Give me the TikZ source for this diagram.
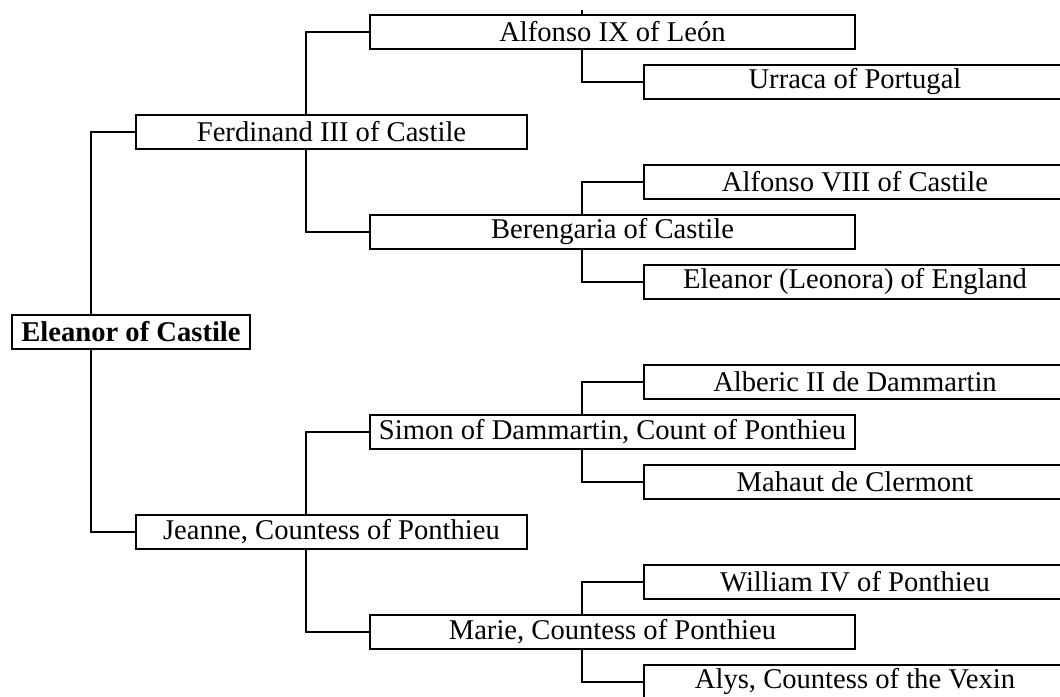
\documentclass[tikz,border=0pt]{standalone}
\usepackage{fontspec}
\setmainfont{Liberation Serif}
\begin{document}
\begin{tikzpicture}[x=0.5pt,y=-0.5pt,
  box/.style={draw,line width=1pt,inner sep=0pt,minimum height=17pt,
    font=\fontsize{14.3}{16}\selectfont},
  gen0/.style={box,minimum width=119pt,font=\fontsize{14.3}{16}\selectfont\bfseries},
  gen1/.style={box,minimum width=195.5pt},
  gen2/.style={box,minimum width=242.5pt},
  gen3/.style={box,minimum width=211pt},
  link/.style={line width=1pt}]
\useasboundingbox (0,0) rectangle (1060,696);
\clip (0,0) rectangle (1060,696);
\fill[white] (0,0) rectangle (1060,696);
% column x positions of the connectors
\coordinate (c0) at (91,0);
\coordinate (c1) at (306,0);
\coordinate (c2) at (582,0);
% generation 0
\node[gen0] (E) at (131,332) {Eleanor of Castile};
% generation 1
\node[gen1] (F) at (331.5,132) {Ferdinand III of Castile};
\node[gen1] (J) at (331.5,532) {Jeanne, Countess of Ponthieu};
% generation 2
\node[gen2] (A9) at (612.5,32) {Alfonso IX of León};
\node[gen2] (B) at (612.5,232) {Berengaria of Castile};
\node[gen2] (S) at (612.5,432) {Simon of Dammartin, Count of Ponthieu};
\node[gen2] (M) at (612.5,632) {Marie, Countess of Ponthieu};
% generation 3
\node[gen3] (U) at (855,82) {Urraca of Portugal};
\node[gen3] (A8) at (855,182) {Alfonso VIII of Castile};
\node[gen3] (L) at (855,282) {Eleanor (Leonora) of England};
\node[gen3] (Al) at (855,382) {Alberic II de Dammartin};
\node[gen3] (Ma) at (855,482) {Mahaut de Clermont};
\node[gen3] (W) at (855,582) {William IV of Ponthieu};
\node[gen3] (Ay) at (855,682) {Alys, Countess of the Vexin};
% connectors
\draw[link] (c0 |- E.north) |- (F.west);
\draw[link] (c0 |- E.south) |- (J.west);
\draw[link] (c1 |- F.north) |- (A9.west);
\draw[link] (c1 |- F.south) |- (B.west);
\draw[link] (c1 |- J.north) |- (S.west);
\draw[link] (c1 |- J.south) |- (M.west);
\draw[link] (c2 |- A9.north) -- ++(0,-4);
\draw[link] (c2 |- A9.south) |- (U.west);
\draw[link] (c2 |- B.north) |- (A8.west);
\draw[link] (c2 |- B.south) |- (L.west);
\draw[link] (c2 |- S.north) |- (Al.west);
\draw[link] (c2 |- S.south) |- (Ma.west);
\draw[link] (c2 |- M.north) |- (W.west);
\draw[link] (c2 |- M.south) |- (Ay.west);
\end{tikzpicture}
\end{document}
